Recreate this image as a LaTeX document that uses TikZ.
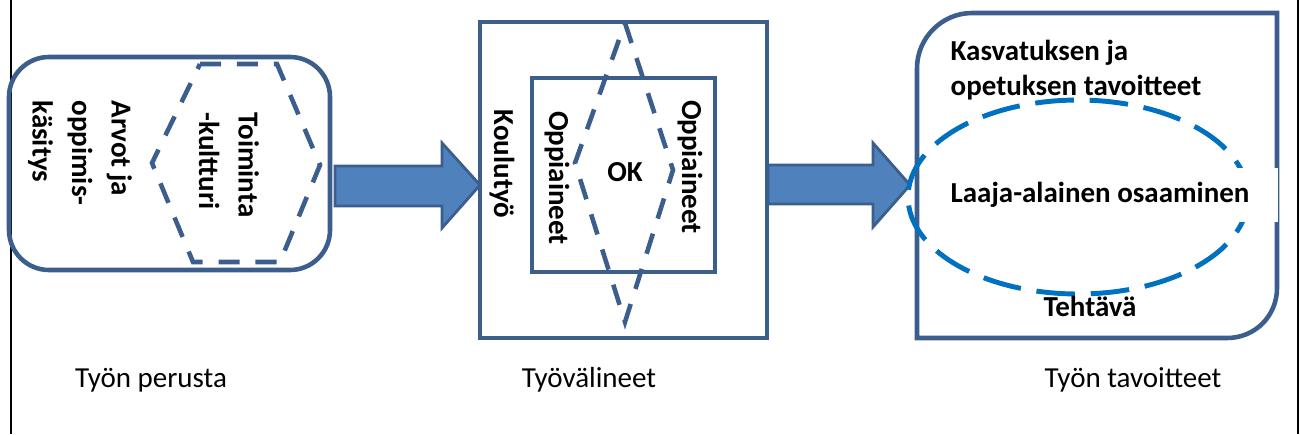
\documentclass[tikz,border=0pt]{standalone}
\usepackage{fontspec}
\setmainfont{Carlito}
\usetikzlibrary{shapes.geometric}
\definecolor{reuna}{HTML}{3B5E8D}
\definecolor{nuolisin}{HTML}{4F81BD}
\definecolor{soikiosin}{HTML}{0070C0}
\tikzset{
  laatikko/.style={draw=reuna,line width=2.6pt},
  katko/.style={draw=reuna,line width=2.6pt,dash pattern=on 12pt off 9pt},
  nuoli/.style={draw=reuna,fill=nuolisin,line width=1.6pt},
  pysty/.style={rotate=-90,align=left,inner sep=1pt,font=\bfseries\fontsize{16.5}{22.5}\selectfont},
  lihava/.style={inner sep=1pt,font=\bfseries\fontsize{16.5}{20}\selectfont},
  alateksti/.style={inner sep=1pt,font=\fontsize{16.5}{20}\selectfont}
}
\begin{document}
\begin{tikzpicture}[x=0.02cm,y=-0.02cm]
			\useasboundingbox (0,0) rectangle (1300,434);
			\draw[line width=1.1pt] (11,0) -- (11,434);
			\draw[line width=1.1pt] (1298,0) -- (1298,434);

			% tyon perusta
			\draw[laatikko,rounded corners=0.8cm] (9,57) rectangle (330,270);
			\draw[katko] (200,64) -- (277,64) -- (320,165) -- (280,262) -- (193,262) -- (152,163) -- cycle;
			\node[pysty] (arvot) at (80,153) {Arvot ja\\oppimis-\\käsitys};
			\node[pysty] (toiminta) at (229,165) {Toiminta\\-kultturi};

			\draw[nuoli] (335,166) -- (442,166) -- (442,143) -- (480,185) -- (442,228) -- (442,206) -- (335,206) -- cycle;

			% tyovalineet
			\draw[laatikko] (480,22) rectangle (767,338);
			\draw[laatikko] (532,78) rectangle (715,272);
			\draw[katko] (625,23) -- (673,170) -- (625,322) -- (575,163) -- cycle;
			\node[pysty] (koulutyo) at (502,164) {Koulutyö};
			\node[pysty] (oppiaineet1) at (557,178) {Oppiaineet};
			\node[pysty,fill=white] (oppiaineet2) at (690,167) {Oppiaineet};
			\node[lihava] (ok) at (625,172) {OK};

			\draw[nuoli] (768,165) -- (873,165) -- (873,143) -- (910,185) -- (873,227) -- (873,204) -- (768,204) -- cycle;

			% tyon tavoitteet
			\draw[laatikko] (917,338) -- (917,68) .. controls (917,38) and (942,13) .. (972,13) -- (1277,13)
				-- (1277,288) .. controls (1277,316) and (1255,338) .. (1227,338) -- cycle;
			\node[lihava,align=left] (kasvatus) at (1076,70) {Kasvatuksen ja\\opetuksen tavoitteet};
			\node[ellipse,draw=soikiosin,line width=2.8pt,dash pattern=on 22pt off 9pt,
				minimum width=6.8cm,minimum height=3.88cm] (soikio) at (1078,197) {};
			\node[lihava,fill=white,minimum width=7.12cm,minimum height=1.08cm] (laaja) at (1100,195) {Laaja-alainen osaaminen};
			\node[lihava] (tehtava) at (1090,306) {Tehtävä};

			\node[alateksti] (perusta) at (151,380) {Työn perusta};
			\node[alateksti] (valineet) at (589,380) {Työvälineet};
			\node[alateksti] (tavoitteet) at (1133,380) {Työn tavoitteet};
		\end{tikzpicture}
\end{document}
